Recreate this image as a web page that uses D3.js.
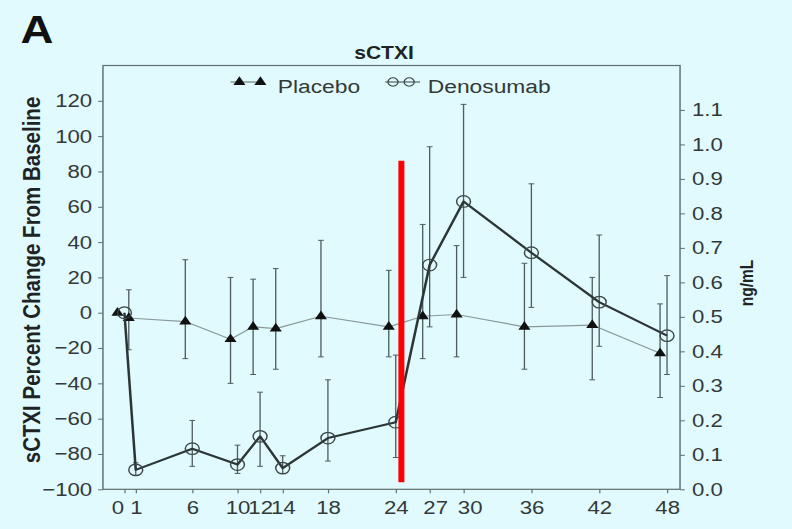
<!DOCTYPE html>
<html>
<head>
<meta charset="utf-8">
<script src="https://cdn.jsdelivr.net/npm/d3@7"></script>
<style>
  html, body { margin: 0; padding: 0; background: #e1fafd; }
  svg { display: block; }
  text { font-family: "Liberation Sans", Arial, Helvetica, sans-serif; }
</style>
</head>
<body>
<svg id="chart"></svg>
<script>
// ---- data: sCTXI, percent change from baseline by study week ----
const weeks = [0, 1, 6, 10, 12, 14, 18, 24, 27, 30, 36, 42, 48];

const placeboMean  = [0, -3, -5, -15, -8, -9, -2, -8, -2, -1, -8, -7, -23];
const placeboUpper = [0, 13, 30, 20, 19, 25, 41, 24, 50, 38, 28, 20, 5];
const placeboLower = [0, -21, -26, -40, -35, -32, -25, -25, -26, -25, -32, -38, -48];

const denosumabMean  = [0, -89, -77, -86, -70, -88, -71, -62, 27, 63, 34, 6, -13];
const denosumabUpper = [0, -85, -61, -75, -45, -81, -38, -24, 94, 118, 73, 44, 21];
const denosumabLower = [0, -92, -87, -91, -87, -91, -84, -82, -8, 20, 3, -19, -35];

const seriesNames = ["Placebo", "Denosumab"];

const xTickValues = [0, 1, 6, 10, 12, 14, 18, 24, 27, 30, 36, 42, 48];
const leftTickValues = [-100, -80, -60, -40, -20, 0, 20, 40, 60, 80, 100, 120];
const rightTickValues = [0, 0.1, 0.2, 0.3, 0.4, 0.5, 0.6, 0.7, 0.8, 0.9, 1.0, 1.1];

// baseline concentration that 0 % corresponds to (ng/mL)
const baselineNgPerMl = 0.512;

// vertical marker for end of treatment
const markerWeek = 24.5;
const markerSpan = [-96, 86];

// ---- layout (drawing units; the drawing is shown 1.2x wider than tall units) ----
const W = 660, H = 529, SX = 1.2;
const plotL = 85.8, plotR = 566.7, plotT = 65.5, plotB = 489.3;

const svg = d3.select("#chart")
  .attr("width", W * SX).attr("height", H)
  .attr("viewBox", `0 0 ${W} ${H}`)
  .attr("preserveAspectRatio", "none");

svg.append("rect").attr("width", W).attr("height", H).attr("fill", "#e1fafd");

const pctDomain = [-100, 140];
const x = d3.scaleLinear().domain([-1.9, 49.15]).range([plotL, plotR]);
const y = d3.scaleLinear().domain(pctDomain).range([plotB, plotT]);
const yRight = d3.scaleLinear()
  .domain(pctDomain.map(p => baselineNgPerMl * (1 + p / 100)))
  .range([plotB, plotT]);

const axisColor = "#5e6e6e";
const textColor = "#333939";

// frame
svg.append("rect")
  .attr("x", plotL).attr("y", plotT)
  .attr("width", plotR - plotL).attr("height", plotB - plotT)
  .attr("fill", "none").attr("stroke", axisColor).attr("stroke-width", 1.2);

function styleAxis(g) {
  g.select(".domain").remove();
  g.selectAll(".tick line").attr("stroke", axisColor).attr("stroke-width", 1);
  g.selectAll(".tick text")
    .attr("fill", textColor)
    .style("font-size", "18.5px")
    .style("font-family", '"Liberation Sans", Arial, sans-serif');
}

// left axis
svg.append("g")
  .attr("transform", `translate(${plotL},0)`)
  .call(d3.axisLeft(y).tickValues(leftTickValues).tickSize(4).tickPadding(5).tickFormat(d3.format("d")))
  .call(styleAxis);

// right axis
svg.append("g")
  .attr("transform", `translate(${plotR},0)`)
  .call(d3.axisRight(yRight).tickValues(rightTickValues).tickSize(4).tickPadding(6).tickFormat(d3.format(".1f")))
  .call(styleAxis);

// bottom axis
const labelNudge = { 0: -6, 27: 4.5, 30: 5 };
svg.append("g")
  .attr("transform", `translate(0,${plotB})`)
  .call(d3.axisBottom(x).tickValues(xTickValues).tickSize(4).tickPadding(8).tickFormat(d3.format("d")))
  .call(styleAxis)
  .call(g => g.selectAll(".tick text").attr("dx", d => labelNudge[d] || 0));

// axis titles
svg.append("text")
  .attr("transform", `translate(33.5,280) rotate(-90)`)
  .attr("text-anchor", "middle")
  .attr("fill", "#1e2424")
  .style("font-size", "20.5px").style("font-weight", "bold")
  .text("sCTXI Percent Change From Baseline");

svg.append("text")
  .attr("transform", `translate(627.5,283) rotate(-90)`)
  .attr("text-anchor", "middle")
  .attr("fill", "#1e2424")
  .style("font-size", "15.5px").style("font-weight", "bold")
  .text("ng/mL");

// panel letter and title
svg.append("text")
  .attr("x", 17).attr("y", 43)
  .attr("fill", "#111")
  .style("font-size", "38px").style("font-weight", "bold")
  .text("A");

svg.append("text")
  .attr("x", 320).attr("y", 59)
  .attr("text-anchor", "middle")
  .attr("fill", "#1e2424")
  .style("font-size", "17.5px").style("font-weight", "bold")
  .text("sCTXI");

// ---- series ----
const placeboDodge = -5.8;
const series = [
  { name: seriesNames[0], mean: placeboMean, upper: placeboUpper, lower: placeboLower, dx: placeboDodge,
    line: "#8a9a9a", lineWidth: 1.2, marker: "triangle" },
  { name: seriesNames[1], mean: denosumabMean, upper: denosumabUpper, lower: denosumabLower, dx: 0,
    line: "#2c3636", lineWidth: 2.1, marker: "circle" }
];

const errColor = "#4e5c5c";
const capHalf = 2.4;
const triSize = 44;

series.forEach(s => {
  const pts = weeks.map((w, i) => ({ w, m: s.mean[i], hi: s.upper[i], lo: s.lower[i] }));
  const g = svg.append("g");

  // error bars
  const eb = g.selectAll("g.err").data(pts.filter(p => p.hi !== p.lo)).join("g").attr("class", "err");
  eb.append("line")
    .attr("x1", p => x(p.w) + s.dx).attr("x2", p => x(p.w) + s.dx)
    .attr("y1", p => y(p.hi)).attr("y2", p => y(p.lo))
    .attr("stroke", errColor).attr("stroke-width", 1.1);
  eb.append("line")
    .attr("x1", p => x(p.w) + s.dx - capHalf).attr("x2", p => x(p.w) + s.dx + capHalf)
    .attr("y1", p => y(p.hi)).attr("y2", p => y(p.hi))
    .attr("stroke", errColor).attr("stroke-width", 1);
  eb.append("line")
    .attr("x1", p => x(p.w) + s.dx - capHalf).attr("x2", p => x(p.w) + s.dx + capHalf)
    .attr("y1", p => y(p.lo)).attr("y2", p => y(p.lo))
    .attr("stroke", errColor).attr("stroke-width", 1);

  // connecting line
  g.append("path")
    .datum(pts)
    .attr("fill", "none")
    .attr("stroke", s.line).attr("stroke-width", s.lineWidth)
    .attr("stroke-linejoin", "round")
    .attr("d", d3.line().x(p => x(p.w) + s.dx).y(p => y(p.m)));

  // markers
  if (s.marker === "triangle") {
    g.selectAll("path.mk").data(pts).join("path").attr("class", "mk")
      .attr("transform", p => `translate(${x(p.w) + s.dx},${y(p.m)})`)
      .attr("d", d3.symbol(d3.symbolTriangle, triSize))
      .attr("fill", "#111");
  } else {
    g.selectAll("circle.mk").data(pts).join("circle").attr("class", "mk")
      .attr("cx", p => x(p.w) + s.dx).attr("cy", p => y(p.m))
      .attr("r", 5.8)
      .attr("fill", "none").attr("stroke", "#3a4646").attr("stroke-width", 1.2);
  }
});

// ---- legend ----
const legY = 82, legTextY = 93;
const legend = svg.append("g");
// placebo entry
legend.append("line").attr("x1", 192).attr("x2", 220).attr("y1", legY).attr("y2", legY)
  .attr("stroke", "#5a6a6a").attr("stroke-width", 1.2);
[199.5, 217].forEach(cx => legend.append("path")
  .attr("transform", `translate(${cx},${legY})`)
  .attr("d", d3.symbol(d3.symbolTriangle, triSize)).attr("fill", "#111"));
legend.append("text").attr("x", 231.5).attr("y", legTextY)
  .attr("fill", textColor).style("font-size", "19px").text(seriesNames[0]);
// denosumab entry
legend.append("line").attr("x1", 321).attr("x2", 350).attr("y1", legY).attr("y2", legY)
  .attr("stroke", "#3a4646").attr("stroke-width", 1.2);
[327.5, 341].forEach(cx => legend.append("circle")
  .attr("cx", cx).attr("cy", legY).attr("r", 4.2)
  .attr("fill", "none").attr("stroke", "#3a4646").attr("stroke-width", 1.1));
legend.append("text").attr("x", 356.5).attr("y", legTextY)
  .attr("fill", textColor).style("font-size", "19px").text(seriesNames[1]);

// end-of-treatment marker
svg.append("line")
  .attr("x1", x(markerWeek)).attr("x2", x(markerWeek))
  .attr("y1", y(markerSpan[0])).attr("y2", y(markerSpan[1]))
  .attr("stroke", "#ff0000").attr("stroke-width", 5);
</script>
</body>
</html>
